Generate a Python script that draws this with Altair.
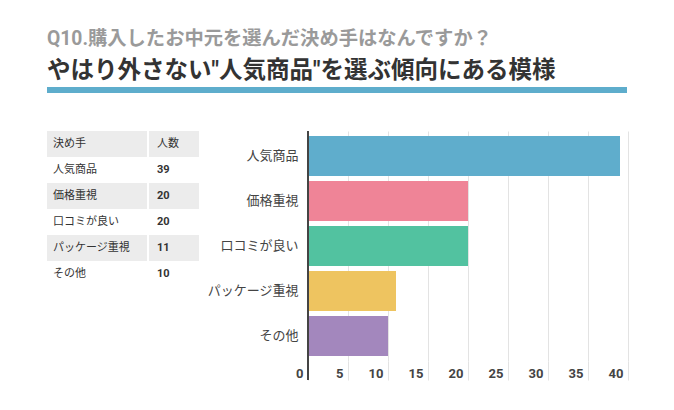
import altair as alt
import pandas as pd

# ---- data ----
categories = ["人気商品", "価格重視", "口コミが良い", "パッケージ重視", "その他"]
counts = [39, 20, 20, 11, 10]
colors = ["#5fadcc", "#ef8497", "#52c2a0", "#eec460", "#a387bd"]
table_header = ["決め手", "人数"]
x_ticks = [0, 5, 10, 15, 20, 25, 30, 35, 40]
title_q = "Q10.購入したお中元を選んだ決め手はなんですか？"
title_main = 'やはり外さない"人気商品"を選ぶ傾向にある模様'

FONT = "Roboto, 'Noto Sans CJK JP', sans-serif"
JP = "'Noto Sans CJK JP', sans-serif"

bars_df = pd.DataFrame({"cat": categories, "n": counts})

table_rows = [{"row": 0, "c1": table_header[0], "c2": table_header[1], "shade": True, "hdr": True}]
for i, (c, n) in enumerate(zip(categories, counts)):
    table_rows.append({"row": i + 1, "c1": c, "c2": str(n), "shade": (i + 1) % 2 == 0, "hdr": False})
table_df = pd.DataFrame(table_rows)

# ---- table ----
ty = alt.Y("row:O", axis=None, scale=alt.Scale(paddingInner=0, paddingOuter=0))
base_t = alt.Chart(table_df)
bg1 = base_t.transform_filter("datum.shade").mark_rect(color="#ececec").encode(
    y=ty, x=alt.value(0), x2=alt.value(100))
bg2 = base_t.transform_filter("datum.shade").mark_rect(color="#ececec").encode(
    y=ty, x=alt.value(102), x2=alt.value(152))
txt1 = base_t.mark_text(align="left", baseline="middle", fontSize=11, color="#333", font=JP).encode(
    y=ty, x=alt.value(6), text="c1:N")
txt2h = base_t.transform_filter("datum.hdr").mark_text(
    align="left", baseline="middle", fontSize=11, color="#333", font=FONT).encode(
    y=ty, x=alt.value(110), text="c2:N")
txt2 = base_t.transform_filter("!datum.hdr").mark_text(
    align="left", baseline="middle", fontSize=11, color="#333", font=FONT, fontWeight="bold").encode(
    y=ty, x=alt.value(110), text="c2:N")
table = alt.layer(bg1, bg2, txt1, txt2h, txt2).properties(width=152, height=156)

# ---- bar chart ----
y_enc = alt.Y("cat:N", sort=categories, title=None,
              scale=alt.Scale(paddingInner=1 / 9, paddingOuter=1 / 9),
              axis=alt.Axis(domain=False, ticks=False, grid=False, labelPadding=10, labelFontSize=13,
                            labelColor="#444", labelFont=JP, labelLimit=200, minExtent=100, maxExtent=100))
x_enc = alt.X("n:Q", title=None, scale=alt.Scale(domain=[0, 40], nice=False),
              axis=alt.Axis(values=x_ticks, domain=False, tickSize=19, tickColor="#e3e3e3",
                            gridColor="#e3e3e3", labelAlign="right", labelOffset=-5, labelPadding=-7,
                            labelBaseline="middle", labelFontSize=13, labelFontWeight="bold",
                            labelColor="#444", labelFont=FONT, labelFlush=False, labelOverlap=False))
bars = alt.Chart(bars_df).mark_bar().encode(
    x=x_enc, y=y_enc,
    color=alt.Color("cat:N", scale=alt.Scale(domain=categories, range=colors), legend=None))
axis_line = alt.Chart(alt.Data(values=[{}])).mark_rule(color="#444", strokeWidth=2).encode(
    x=alt.value(0), y=alt.value(0), y2=alt.value(249))
right = alt.layer(bars, axis_line).properties(width=320, height=230)

# ---- header underline ----
underline = alt.Chart(alt.Data(values=[{}])).mark_rect(color="#5eadcc").encode(
    x=alt.value(0), x2=alt.value(580), y=alt.value(0), y2=alt.value(6)).properties(width=580, height=6)

chart = alt.vconcat(
    underline,
    alt.hconcat(table, right, spacing=7),
    spacing=37,
).properties(
    title=alt.TitleParams(text=title_q, subtitle=title_main, anchor="start", frame="group",
                          font=FONT, fontSize=19.3, fontWeight="bold", color="#9a9a9a",
                          subtitleFont=FONT, subtitleFontSize=23.5, subtitleFontWeight="bold",
                          subtitleColor="#333", subtitlePadding=9, offset=5),
    padding={"left": 39, "top": 22, "right": 10, "bottom": 5},
    background="white",
).configure_view(stroke=None)

chart.save("out.html", embed_options={"renderer": "svg", "actions": False})
